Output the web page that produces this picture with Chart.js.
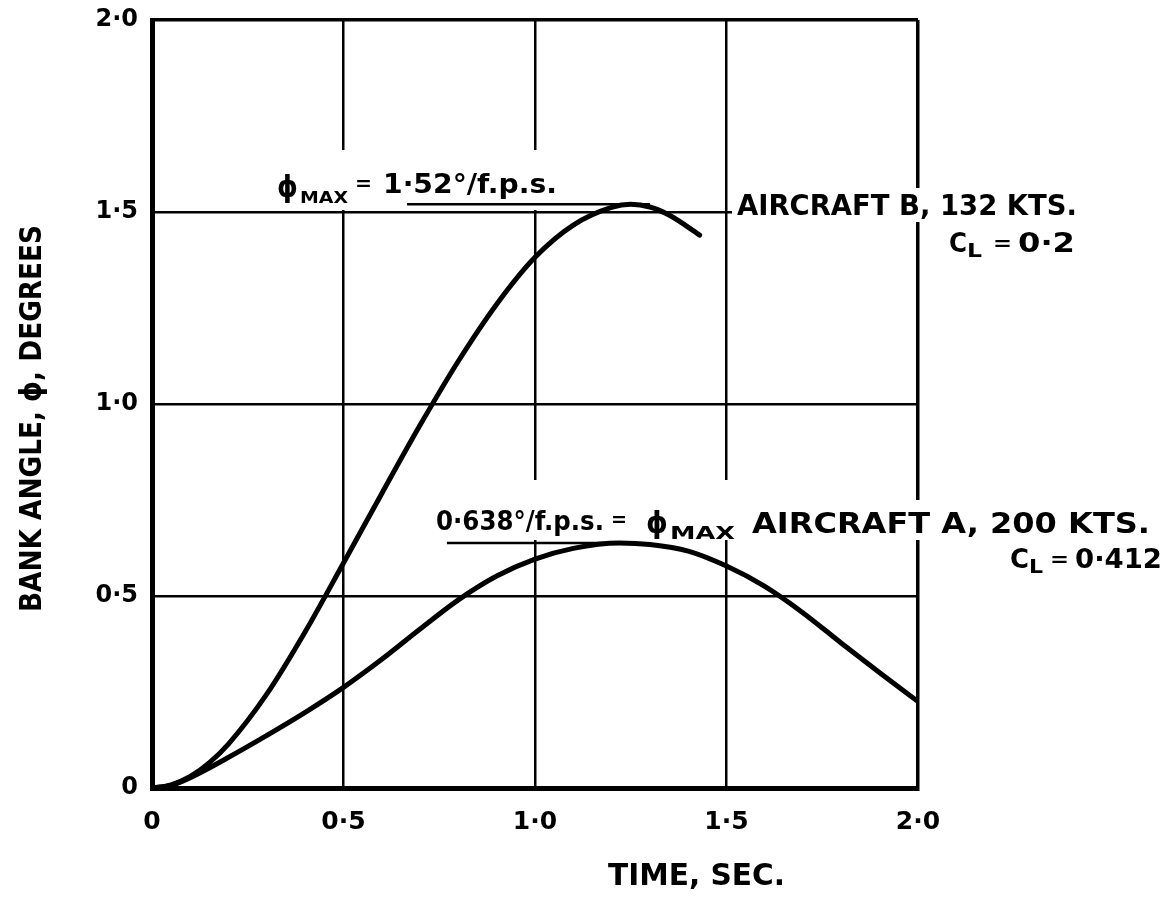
<!DOCTYPE html>
<html>
<head>
<meta charset="utf-8">
<script src="https://cdn.jsdelivr.net/npm/chart.js@4.4.1/dist/chart.umd.min.js"></script>
<style>
  html, body { margin: 0; padding: 0; background: #ffffff; }
  #wrap { width: 1171px; height: 897px; }
</style>
</head>
<body>
<div id="wrap"><canvas id="c" width="1171" height="897"></canvas></div>
<script>
// Roll response to a unit gust: bank angle (degrees) against time (seconds)
const timeA = [0, 0.05, 0.1, 0.2, 0.3, 0.4, 0.5, 0.6, 0.7, 0.8, 0.9, 1.0, 1.1, 1.22, 1.3, 1.4, 1.5, 1.6, 1.7, 1.8, 1.9, 2.0];
const bankA = [0, 0.007, 0.027, 0.08, 0.137, 0.197, 0.262, 0.335, 0.414, 0.49, 0.552, 0.596, 0.624, 0.638, 0.634, 0.617, 0.578, 0.525, 0.456, 0.377, 0.3, 0.225];

const timeB = [0, 0.05, 0.1, 0.15, 0.2, 0.3, 0.4, 0.5, 0.6, 0.7, 0.8, 0.9, 1.0, 1.1, 1.2, 1.25, 1.3, 1.35, 1.43];
const bankB = [0, 0.008, 0.03, 0.066, 0.115, 0.245, 0.407, 0.586, 0.767, 0.945, 1.112, 1.26, 1.382, 1.466, 1.512, 1.52, 1.513, 1.492, 1.44];

// Peak values quoted on the chart
const peakA = 0.638;
const peakB = 1.52;

const tickValues = [0, 0.5, 1.0, 1.5, 2.0];
const xTickLabels = ['0', '0·5', '1·0', '1·5', '2·0'];
const yTickLabels = ['0', '0·5', '1·0', '1·5', '2·0'];

const FONT = '"DejaVu Sans", "Liberation Sans", sans-serif';
const INK = '#000000';

function toPoints(xs, ys) { return xs.map((x, i) => ({ x: x, y: ys[i] })); }

function tickText(labels) {
  return function (value) {
    const i = tickValues.findIndex(v => Math.abs(v - value) < 1e-9);
    return i >= 0 ? labels[i] : '';
  };
}

// Text drawn left-aligned at a baseline and squeezed to a given width
function fitText(ctx, str, x, base, size, width) {
  ctx.save();
  ctx.font = 'bold ' + size + 'px ' + FONT;
  ctx.textAlign = 'left';
  ctx.textBaseline = 'alphabetic';
  ctx.fillStyle = INK;
  const w = ctx.measureText(str).width;
  ctx.translate(x, base);
  ctx.scale(width / w, 1);
  ctx.fillText(str, 0, 0);
  ctx.restore();
}

// Lettering: [text, left, baseline, size, width]
const lettering = [
  ['ϕ', 277, 197, 30, 21],
  ['MAX', 300, 203, 16, 48],
  ['=', 355, 190, 20, 17],
  ['1·52°/f.p.s.', 383, 193, 27, 174],

  ['0·638°/f.p.s.', 436, 530, 27, 168],
  ['=', 611, 526, 20, 16],
  ['ϕ', 646, 533, 30, 22],
  ['MAX', 670, 539, 17, 65],

  ['AIRCRAFT B, 132 KTS.', 737, 215, 29, 340],
  ['C', 949, 252, 27, 18],
  ['L', 967, 257, 20, 15],
  ['=', 993, 250, 20, 19],
  ['0·2', 1018, 252, 27, 57],

  ['AIRCRAFT A, 200 KTS.', 752, 533, 29, 398],
  ['C', 1010, 568, 27, 19],
  ['L', 1029, 573, 20, 14],
  ['=', 1050, 566, 20, 19],
  ['0·412', 1075, 568, 27, 87],

  ['TIME, SEC.', 608, 885, 30, 177]
];

// Clear space behind lettering that sits over the grid: [left, top, width, height]
const clearings = [
  [270, 150, 292, 60],
  [430, 480, 310, 60],
  [745, 500, 420, 40],
  [732, 188, 350, 34]
];

const lettering_plugin = {
  id: 'lettering',
  beforeDatasetsDraw(chart) {
    const ctx = chart.ctx;
    const xs = chart.scales.x, ys = chart.scales.y;
    ctx.save();
    ctx.fillStyle = '#ffffff';
    clearings.forEach(r => ctx.fillRect(r[0], r[1], r[2], r[3]));
    // tangent lines marking each maximum
    ctx.strokeStyle = INK;
    ctx.lineWidth = 2.5;
    ctx.beginPath();
    ctx.moveTo(xs.getPixelForValue(0.666), ys.getPixelForValue(peakB));
    ctx.lineTo(xs.getPixelForValue(1.3), ys.getPixelForValue(peakB));
    ctx.moveTo(xs.getPixelForValue(0.77), ys.getPixelForValue(peakA));
    ctx.lineTo(xs.getPixelForValue(1.25), ys.getPixelForValue(peakA));
    ctx.stroke();
    ctx.restore();
  },
  afterDraw(chart) {
    const ctx = chart.ctx;
    lettering.forEach(t => fitText(ctx, t[0], t[1], t[2], t[3], t[4]));
    // vertical axis title
    ctx.save();
    ctx.translate(41, 612);
    ctx.rotate(-Math.PI / 2);
    fitText(ctx, 'BANK ANGLE, ϕ, DEGREES', 0, 0, 30, 387);
    ctx.restore();
  }
};

const gridWidth = (ctx) => (ctx.tick && Math.abs(ctx.tick.value - 2) < 1e-9) ? 3.5 : 2.5;

new Chart(document.getElementById('c'), {
  type: 'scatter',
  data: {
    datasets: [
      {
        label: 'Aircraft A, 200 kts, CL = 0.412',
        data: toPoints(timeA, bankA),
        showLine: true,
        borderColor: INK,
        borderWidth: 5,
        pointRadius: 0,
        cubicInterpolationMode: 'monotone',
        borderCapStyle: 'round',
        fill: false
      },
      {
        label: 'Aircraft B, 132 kts, CL = 0.2',
        data: toPoints(timeB, bankB),
        showLine: true,
        borderColor: INK,
        borderWidth: 5,
        pointRadius: 0,
        cubicInterpolationMode: 'monotone',
        borderCapStyle: 'round',
        fill: false
      }
    ]
  },
  options: {
    responsive: false,
    animation: false,
    devicePixelRatio: 1,
    layout: { padding: { top: 20, right: 253, left: 0, bottom: 0 } },
    plugins: { legend: { display: false }, tooltip: { enabled: false } },
    scales: {
      x: {
        type: 'linear',
        min: 0, max: 2,
        afterFit(s) { s.height = 109; s.paddingLeft = 0; s.paddingRight = 0; },
        afterBuildTicks(s) { s.ticks = tickValues.map(v => ({ value: v })); },
        ticks: {
          callback: tickText(xTickLabels),
          color: INK,
          font: { family: FONT, size: 25, weight: 'bold' },
          padding: 19,
          maxRotation: 0
        },
        grid: { color: INK, lineWidth: gridWidth, drawTicks: false },
        border: { display: true, color: INK, width: 5 }
      },
      y: {
        type: 'linear',
        min: 0, max: 2,
        afterFit(s) { s.width = 152; s.paddingTop = 0; s.paddingBottom = 0; },
        afterBuildTicks(s) { s.ticks = tickValues.map(v => ({ value: v })); },
        ticks: {
          callback: tickText(yTickLabels),
          color: INK,
          font: { family: FONT, size: 24, weight: 'bold' },
          padding: 14
        },
        grid: { color: INK, lineWidth: gridWidth, drawTicks: false },
        border: { display: true, color: INK, width: 5 }
      }
    }
  },
  plugins: [lettering_plugin]
});
</script>
</body>
</html>
